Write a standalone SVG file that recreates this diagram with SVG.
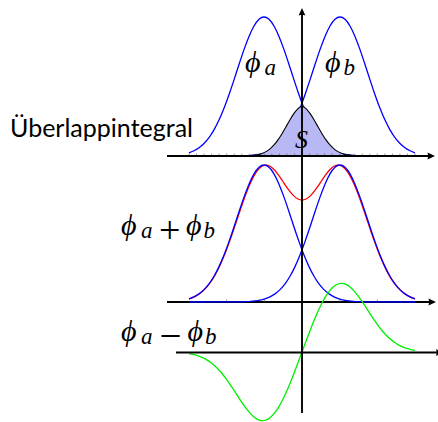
<svg xmlns="http://www.w3.org/2000/svg" xmlns:xlink="http://www.w3.org/1999/xlink" width="438" height="422" viewBox="0 0 438 422">
<style>
.blue{fill:none;stroke:#0000ff;stroke-width:1.3;stroke-linejoin:round}
.red{fill:none;stroke:#ff0000;stroke-width:1.3;stroke-linejoin:round}
.green{fill:none;stroke:#00ee00;stroke-width:1.3;stroke-linejoin:round}
.axis{fill:none;stroke:#000;stroke-width:1.9}
.tick{fill:none;stroke:#444;stroke-width:0.6}
.phi{font-family:"Liberation Serif","DejaVu Serif",serif;font-style:italic;font-size:30px;fill:#000}
.m{font-family:"Liberation Serif",serif;font-style:italic;fill:#000}
.op{font-family:"Liberation Serif",serif;fill:#000}
.lbl{font-family:Lato,"Open Sans",sans-serif;fill:#000}
</style>
<defs>
<marker id="arr" markerUnits="userSpaceOnUse" markerWidth="10" markerHeight="10" refX="0" refY="0" orient="auto" overflow="visible">
<path d="M5.5,0 L-2,-3.4 Q-0.6,0 -2,3.4 Z" fill="#000"/>
</marker>
<path id="phiA" d="M189,152.76 C190.667,152.219 192.333,151.57 194,150.75 S197.333,148.945 199,147.75 S202.333,145.145 204,143.47 S207.333,139.855 209,137.60 S212.333,132.772 214,129.86 S217.333,123.69 219,120.09 S222.333,112.552 224,108.30 S227.333,99.49 229,94.71 S232.333,84.931 234,79.84 S237.333,69.569 239,64.47 S242.333,54.351 244,49.61 S247.333,40.407 249,36.41 S252.333,28.887 254,25.99 S257.333,20.823 259,19.30 S262.333,17 264,17 S267.333,17.777 269,19.30 S272.333,23.093 274,25.99 S277.333,32.413 279,36.41 S282.333,44.869 284,49.61 S287.333,59.371 289,64.47 S292.333,74.749 294,79.84 S297.333,89.93 299,94.71 S302.333,104.048 304,108.30 S307.333,116.49 309,120.09 S312.333,126.948 314,129.86 S317.333,135.345 319,137.60 S322.333,141.795 324,143.47 S327.333,146.555 329,147.75 S332.333,149.93 334,150.75 S337.333,152.219 339,152.76 S342.333,153.726 344,154.07 S347.333,154.68 349,154.89 S352.333,155.256 354,155.38 L364,155.83 L380,155.98 L415,156"/>
<path id="redR" d="M302,200.04 C303.333,200.04 304.667,199.683 306,199.03 S308.667,197.352 310,196.12 S312.667,193.312 314,191.64 S316.667,188.015 318,186.09 S320.667,182.048 322,180.09 S324.667,176.10 326,174.34 S328.667,170.875 330,169.53 S332.667,167.013 334,166.27 S336.667,165.08 338,165.07 S340.667,165.415 342,166.21 S344.667,168.233 346,169.84 S348.667,173.492 350,175.85 S352.667,180.988 354,183.99 S356.667,190.37 358,193.86 S360.667,201.127 362,204.93 S364.667,212.738 366,216.68 S368.667,224.668 370,228.58 S372.667,236.413 374,240.15 S376.667,247.553 378,251.00 S380.667,257.752 382,260.83 S384.667,266.803 386,269.47 S388.667,274.585 390,276.83 S392.667,281.10 394,282.94 S396.667,286.402 398,287.87 S400.667,290.608 402,291.75 S404.667,293.855 406,294.72 S408.667,296.30 410,296.94 S412.667,298.11 414,298.56 L415,298.88"/>
<path id="greenR" d="M302,352 C303.333,348.39 304.667,344.767 306,341.21 S308.667,334.093 310,330.66 S312.667,323.833 314,320.61 S316.667,314.252 318,311.32 S320.667,305.58 322,303.02 S324.667,298.075 326,295.96 S328.667,291.938 330,290.33 S332.667,287.367 334,286.31 S336.667,284.477 338,283.99 S340.667,283.313 342,283.39 S344.667,283.843 346,284.45 S348.667,285.953 350,287.03 S352.667,289.445 354,290.91 S356.667,294.062 358,295.82 S360.667,299.51 362,301.46 S364.667,305.482 366,307.52 S368.667,311.66 370,313.69 S372.667,317.758 374,319.70 S376.667,323.545 378,325.34 S380.667,328.862 382,330.47 S384.667,333.595 386,334.99 S388.667,337.667 390,338.84 S392.667,341.068 394,342.03 S396.667,343.842 398,344.61 S400.667,346.043 402,346.64 S404.667,347.738 406,348.19 S408.667,349.015 410,349.35 S412.667,349.95 414,350.20 L415,350.37"/>
</defs>

<g id="top-panel">
<use xlink:href="#phiA" href="#phiA" class="blue"/>
<use xlink:href="#phiA" href="#phiA" class="blue" transform="translate(604,0) scale(-1,1)"/>
<path id="overlap" d="M189,156 L242,155.97 L250,155.64 C251.333,155.552 252.667,155.435 254,155.27 S256.667,154.891 258,154.60 S260.667,153.934 262,153.45 S264.667,152.364 266,151.61 S268.667,149.948 270,148.85 S272.667,146.473 274,144.98 S276.667,141.789 278,139.90 S280.667,135.921 282,133.71 S284.667,129.158 286,126.79 S288.667,122.031 290,119.75 S292.667,115.299 294,113.39 S296.667,109.835 298,108.57 S300.667,106.427 302,106 C303.333,106.427 304.667,107.305 306,108.57 S308.667,111.481 310,113.39 S312.667,117.469 314,119.75 S316.667,124.422 318,126.79 S320.667,131.499 322,133.71 S324.667,138.011 326,139.90 S328.667,143.487 330,144.98 S332.667,147.752 334,148.85 S336.667,150.856 338,151.61 S340.667,152.966 342,153.45 S344.667,154.309 346,154.60 S348.667,155.105 350,155.27 S352.667,155.552 354,155.64 L362,155.97 L415,156 Z" fill="#b8b8f4" stroke="#000" stroke-width="1.1" stroke-linejoin="round"/>
<path class="tick" d="M189,153.6V156M196.53,153.6V156M204.07,153.6V156M211.6,153.6V156M219.13,153.6V156M226.67,153.6V156M234.2,153.6V156M241.73,153.6V156M249.27,153.6V156M256.8,153.6V156M264.33,153.6V156M271.87,153.6V156M279.4,153.6V156M286.93,153.6V156M294.47,153.6V156M309.53,153.6V156M317.07,153.6V156M324.6,153.6V156M332.13,153.6V156M339.67,153.6V156M347.2,153.6V156M354.73,153.6V156M362.27,153.6V156M369.8,153.6V156M377.33,153.6V156M384.87,153.6V156M392.4,153.6V156M399.93,153.6V156M407.47,153.6V156M415,153.6V156"/>
<line class="axis" x1="167" y1="156" x2="429.5" y2="156" marker-end="url(#arr)"/>
<text class="phi" x="245" y="72">ϕ</text><text class="m" x="264.5" y="75" font-size="23">a</text>
<text class="phi" x="325" y="72">ϕ</text><text class="m" x="343.5" y="75" font-size="23">b</text>
<text class="m" x="295" y="148" font-size="26">S</text>
<text class="lbl" x="10" y="137" font-size="25" textLength="183" lengthAdjust="spacingAndGlyphs">Überlappintegral</text>
</g>

<g id="middle-panel">
<use xlink:href="#redR" href="#redR" class="red"/>
<use xlink:href="#redR" href="#redR" class="red" transform="translate(604,0) scale(-1,1)"/>
<line class="axis" x1="167" y1="302" x2="430.5" y2="302" marker-end="url(#arr)"/>
<path class="tick" d="M226.67,299.6V302M264.33,299.6V302M339.67,299.6V302M377.33,299.6V302"/>
<use xlink:href="#phiA" href="#phiA" class="blue" transform="matrix(1 0 0 0.98561 0 148.245)"/>
<use xlink:href="#phiA" href="#phiA" class="blue" transform="matrix(-1 0 0 0.98561 604 148.245)"/>
<text class="phi" x="121" y="235">ϕ</text><text class="m" x="141" y="238" font-size="23">a</text>
<text class="op" x="159" y="243" font-size="38">+</text>
<text class="phi" x="186" y="235">ϕ</text><text class="m" x="203.5" y="238" font-size="23">b</text>
</g>

<g id="bottom-panel">
<use xlink:href="#greenR" href="#greenR" class="green"/>
<use xlink:href="#greenR" href="#greenR" class="green" transform="rotate(180 302 352)"/>
<line class="axis" x1="176" y1="352.5" x2="438" y2="352.5" marker-end="url(#arr)"/>
<text class="phi" x="121" y="341">ϕ</text><text class="m" x="141" y="344" font-size="23">a</text>
<text class="op" x="159.5" y="349" font-size="39">−</text>
<text class="phi" x="187.5" y="341">ϕ</text><text class="m" x="205" y="344" font-size="23">b</text>
</g>

<g id="connectors">
<line class="axis" x1="302" y1="413" x2="302" y2="13.5" marker-end="url(#arr)"/>
</g>
</svg>
